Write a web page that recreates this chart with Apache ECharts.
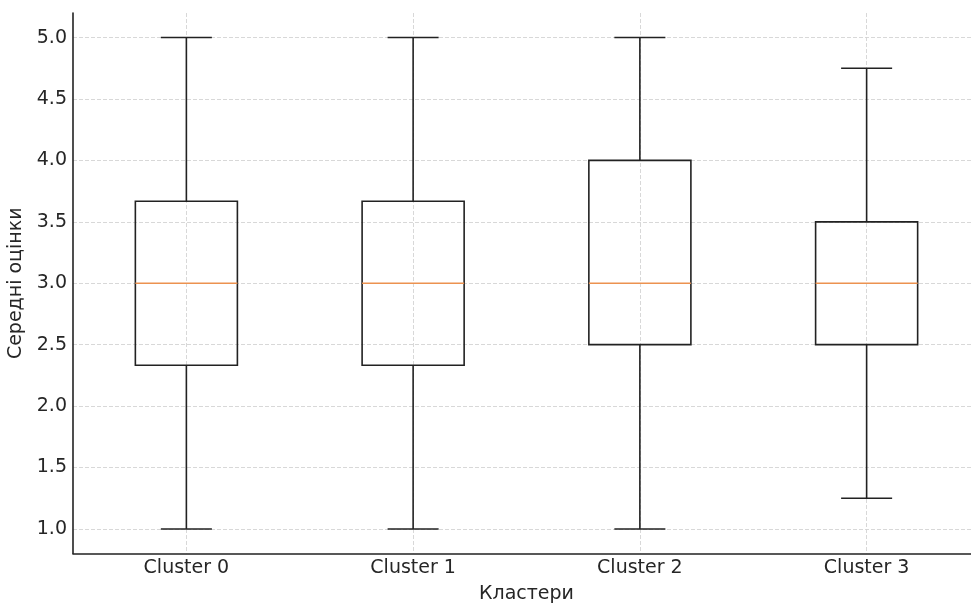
<!DOCTYPE html>
<html>
<head>
<meta charset="utf-8">
<script src="https://cdn.jsdelivr.net/npm/echarts@6/dist/echarts.min.js"></script>
<style>html,body{margin:0;padding:0;background:#fff}#c{width:971px;height:603px}</style>
</head>
<body>
<div id="c"></div>
<script>
const categories = ['Cluster 0', 'Cluster 1', 'Cluster 2', 'Cluster 3'];
const whiskerLow = [1.0, 1.0, 1.0, 1.25];
const q1 = [2.333, 2.333, 2.5, 2.5];
const median = [3.0, 3.0, 3.0, 3.0];
const q3 = [3.667, 3.667, 4.0, 3.5];
const whiskerHigh = [5.0, 5.0, 5.0, 4.75];
const yTicks = [1.0, 1.5, 2.0, 2.5, 3.0, 3.5, 4.0, 4.5, 5.0];
const xTitle = 'Кластери';
const yTitle = 'Середні оцінки';

const data = categories.map((c, i) => [i, whiskerLow[i], q1[i], median[i], q3[i], whiskerHigh[i]]);

const lineCol = '#222222';
const medCol = '#ec9250';
const font = 'DejaVu Sans';

function renderItem(params, api) {
  const idx = api.value(0);
  const band = api.size([1, 0])[0];
  const bw = band * 0.45, cw = band * 0.225;
  const pLo = api.coord([idx, api.value(1)]);
  const pQ1 = api.coord([idx, api.value(2)]);
  const pMed = api.coord([idx, api.value(3)]);
  const pQ3 = api.coord([idx, api.value(4)]);
  const pHi = api.coord([idx, api.value(5)]);
  const x = pMed[0];
  const st = {stroke: lineCol, lineWidth: 1.6, fill: null};
  return {
    type: 'group',
    children: [
      {type: 'rect', shape: {x: x - bw / 2, y: pQ3[1], width: bw, height: pQ1[1] - pQ3[1]}, style: {stroke: lineCol, lineWidth: 1.6, fill: 'rgba(0,0,0,0)'}},
      {type: 'line', shape: {x1: x, y1: pQ3[1], x2: x, y2: pHi[1]}, style: st},
      {type: 'line', shape: {x1: x, y1: pQ1[1], x2: x, y2: pLo[1]}, style: st},
      {type: 'line', shape: {x1: x - cw / 2, y1: pHi[1], x2: x + cw / 2, y2: pHi[1]}, style: st},
      {type: 'line', shape: {x1: x - cw / 2, y1: pLo[1], x2: x + cw / 2, y2: pLo[1]}, style: st},
      {type: 'line', shape: {x1: x - bw / 2, y1: pMed[1], x2: x + bw / 2, y2: pMed[1]}, style: {stroke: medCol, lineWidth: 1.7}}
    ]
  };
}

const chart = echarts.init(document.getElementById('c'), null, {renderer: 'canvas'});
chart.setOption({
  backgroundColor: '#ffffff',
  animation: false,
  grid: {left: 73, top: 13, width: 907, height: 540.5, containLabel: false, outerBoundsMode: 'none'},
  xAxis: {
    type: 'category',
    data: categories,
    boundaryGap: true,
    name: xTitle,
    nameLocation: 'middle',
    nameGap: 31,
    nameTextStyle: {fontFamily: font, fontSize: 19, color: '#262626'},
    axisLine: {show: true, lineStyle: {color: lineCol, width: 1.6}},
    axisTick: {show: false, alignWithLabel: true},
    axisLabel: {fontFamily: font, fontSize: 19, color: '#262626', margin: 5},
    splitLine: {show: true, alignWithLabel: true, lineStyle: {color: '#d4d4d4', width: 0.9, type: [4, 2]}}
  },
  yAxis: {
    type: 'value',
    min: 0.8,
    max: 5.2,
    splitNumber: 9,
    name: yTitle,
    nameLocation: 'middle',
    nameGap: 40,
    nameTextStyle: {fontFamily: font, fontSize: 19, color: '#262626'},
    axisLine: {show: true, lineStyle: {color: lineCol, width: 1.6}},
    axisTick: {show: false},
    axisLabel: {
      fontFamily: font, fontSize: 19, color: '#262626', margin: 6,
      showMinLabel: false, showMaxLabel: false,
      formatter: v => (yTicks.some(t => Math.abs(t - v) < 1e-6) ? v.toFixed(1) : '')
    },
    splitLine: {show: true, showMinLine: false, showMaxLine: false, lineStyle: {color: '#d4d4d4', width: 0.9, type: [4, 2]}}
  },
  series: [{
    type: 'custom',
    renderItem: renderItem,
    encode: {x: 0, y: [1, 2, 3, 4, 5]},
    data: data,
    z: 10
  }]
});
</script>
</body>
</html>
